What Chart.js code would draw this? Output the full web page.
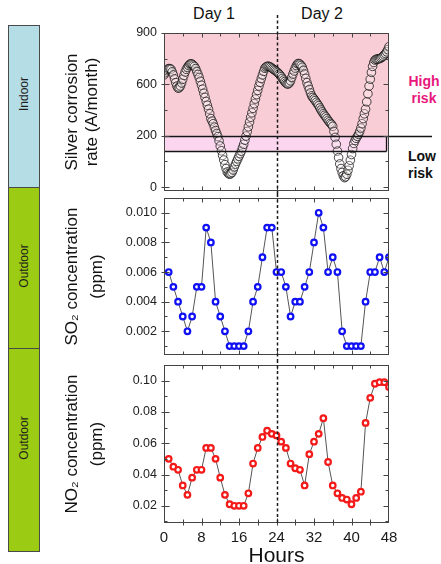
<!DOCTYPE html>
<html>
<head>
<meta charset="utf-8">
<script src="https://cdn.jsdelivr.net/npm/chart.js@4.4.0/dist/chart.umd.min.js"></script>
<style>
html,body{margin:0;padding:0;background:#fff;}
#wrap{position:relative;width:441px;height:564px;overflow:hidden;font-family:'Liberation Sans',Arial,sans-serif;}
canvas{position:absolute;left:0;}
.box{position:absolute;left:8px;width:32px;border:1px solid #4a4a4a;box-sizing:border-box;}
.vt{position:absolute;left:50%;transform:translate(-50%,-50%) rotate(-90deg);white-space:nowrap;font-size:12px;color:#1e1e1e;}
.day{position:absolute;top:5px;font-size:16px;color:#111;transform:translateX(-50%);white-space:nowrap;}
.risk{position:absolute;font-weight:bold;font-size:14px;line-height:17px;}
</style>
</head>
<body>
<div id="wrap">
  <div class="box" style="top:25px;height:163px;background:#b5dde5;"><span class="vt" style="top:68px;">Indoor</span></div>
  <div class="box" style="top:187px;height:162px;background:#9bcb12;"><span class="vt" style="top:78px;">Outdoor</span></div>
  <div class="box" style="top:348px;height:204px;background:#9bcb12;"><span class="vt" style="top:89px;">Outdoor</span></div>
  <div class="day" style="left:214px;">Day 1</div>
  <div class="day" style="left:322px;">Day 2</div>
  <div class="risk" style="left:405px;top:73px;width:38px;text-align:center;color:#e8177c;">High<br>risk</div>
  <div class="risk" style="left:408px;top:148px;color:#111;">Low<br>risk</div>
  <canvas id="c1" width="441" height="194" style="top:0px;"></canvas>
  <canvas id="c2" width="441" height="166" style="top:194px;"></canvas>
  <canvas id="c3" width="441" height="204" style="top:360px;"></canvas>
</div>
<script>
// ---------- data ----------
const dayBoundaryHour = 24;
const xTickHours = [0, 8, 16, 24, 32, 40, 48];

const silverHours = [
  0,0.25,0.5,0.75,1,1.25,1.5,1.75,2,2.25,2.5,2.75,3,3.25,3.5,3.75,4,4.25,4.5,4.75,5,5.25,5.5,5.75,
  6,6.25,6.5,6.75,7,7.25,7.5,7.75,8,8.25,8.5,8.75,9,9.25,9.5,9.75,10,10.25,10.5,10.75,11,11.25,11.5,11.75,
  12,12.25,12.5,12.75,13,13.25,13.5,13.75,14,14.25,14.5,14.75,15,15.25,15.5,15.75,16,16.25,16.5,16.75,17,17.25,17.5,17.75,
  18,18.25,18.5,18.75,19,19.25,19.5,19.75,20,20.25,20.5,20.75,21,21.25,21.5,21.75,22,22.25,22.5,22.75,23,23.25,23.5,23.75,
  24,24.25,24.5,24.75,25,25.25,25.5,25.75,26,26.25,26.5,26.75,27,27.25,27.5,27.75,28,28.25,28.5,28.75,29,29.25,29.5,29.75,
  30,30.25,30.5,30.75,31,31.25,31.5,31.75,32,32.25,32.5,32.75,33,33.25,33.5,33.75,34,34.25,34.5,34.75,35,35.25,35.5,35.75,
  36,36.25,36.5,36.75,37,37.25,37.5,37.75,38,38.25,38.5,38.75,39,39.25,39.5,39.75,40,40.25,40.5,40.75,41,41.25,41.5,41.75,
  42,42.25,42.5,42.75,43,43.25,43.5,43.75,44,44.25,44.5,44.75,45,45.25,45.5,45.75,46,46.25,46.5,46.75,47,47.25,47.5,47.75,48];
const silverRate = [
  655,668,680,688,692,692,688,673,655,632,610,590,578,580,590,608,630,652,672,688,700,710,718,720,
  718,712,705,692,675,658,640,618,595,572,548,524,500,478,455,428,400,385,370,350,330,313,295,270,
  240,212,185,158,131,108,88,79,75,78,85,100,118,134,150,165,180,195,210,230,250,274,298,325,
  352,380,408,434,460,487,514,540,565,590,612,634,655,676,694,702,705,706,704,700,695,690,685,680,
  675,669,662,654,645,635,625,616,608,603,602,608,620,640,660,678,695,710,720,722,718,710,700,682,
  660,635,610,590,570,550,533,523,515,505,495,485,475,462,450,439,428,419,410,400,390,381,372,366,
  355,325,290,250,210,172,135,108,85,66,55,60,75,98,125,157,190,225,255,272,285,296,308,325,
  345,370,400,428,455,498,545,590,630,670,705,728,742,746,748,749,750,754,758,764,772,780,790,803,820];
const silverTickValues = [0, 300, 600, 900];
const silverTickLabels = ['0', '200', '600', '900'];
const riskBandTop = 300;
const riskBandBottom = 212;

const pollutantHours = [1,2,3,4,5,6,7,8,9,10,11,12,13,14,15,16,17,18,19,20,21,22,23,24,25,26,27,28,29,30,31,32,33,34,35,36,37,38,39,40,41,42,43,44,45,46,47,48];
const so2Ppm = [0.006,0.005,0.004,0.003,0.002,0.003,0.005,0.005,0.009,0.008,0.004,0.003,0.002,0.001,0.001,0.001,0.001,0.002,0.004,0.005,0.007,0.009,0.009,0.006,0.006,0.005,0.003,0.004,0.004,0.005,0.006,0.008,0.010,0.009,0.006,0.007,0.006,0.002,0.001,0.001,0.001,0.001,0.004,0.006,0.006,0.007,0.006,0.007];
const so2TickValues = [0.002, 0.004, 0.006, 0.008, 0.010];
const so2TickLabels = ['0.002', '0.004', '0.006', '0.008', '0.010'];

const no2Ppm = [0.050,0.045,0.043,0.033,0.027,0.038,0.043,0.043,0.057,0.057,0.050,0.038,0.027,0.021,0.020,0.020,0.020,0.028,0.047,0.057,0.064,0.068,0.066,0.065,0.061,0.057,0.047,0.044,0.043,0.033,0.053,0.061,0.066,0.076,0.048,0.033,0.028,0.025,0.024,0.021,0.025,0.029,0.073,0.089,0.098,0.099,0.099,0.096];
const no2TickValues = [0.02, 0.04, 0.06, 0.08, 0.10];
const no2TickLabels = ['0.02', '0.04', '0.06', '0.08', '0.10'];

// ---------- drawing ----------
Chart.defaults.font.family = "'Liberation Sans', Arial, sans-serif";
Chart.defaults.color = '#1e1e1e';

const decor = {
  id: 'decor',
  beforeDatasetsDraw(chart, args, o) {
    if (!o.bands) return;
    const {ctx, chartArea: a, scales: {y}} = chart;
    const yt = y.getPixelForValue(riskBandTop), yb = y.getPixelForValue(riskBandBottom);
    ctx.save();
    ctx.fillStyle = '#f9cdd6';
    ctx.fillRect(a.left, a.top, a.right - a.left, yt - a.top);
    ctx.fillStyle = '#fbd6ee';
    ctx.fillRect(a.left, yt, a.right - a.left, yb - yt);
    ctx.restore();
  },
  afterDraw(chart, args, o) {
    const {ctx, chartArea: a, scales: {x, y}} = chart;
    const seg = (x1, y1, x2, y2) => { ctx.beginPath(); ctx.moveTo(x1, y1); ctx.lineTo(x2, y2); ctx.stroke(); };
    ctx.save();
    const L = Math.round(a.left) + 0.5, R = Math.round(a.right) - 0.5;
    const T = Math.round(a.top) + 0.5, B = Math.round(a.bottom) - 0.5;
    if (o.bands) {
      const yt = Math.round(y.getPixelForValue(riskBandTop)) + 0.5;
      const yb = Math.round(y.getPixelForValue(riskBandBottom)) + 0.5;
      ctx.strokeStyle = '#151515';
      ctx.lineWidth = 1.5;
      seg(L, yt, 432, yt);
      ctx.lineWidth = 1.3;
      seg(L, yb, R - 2, yb);
      seg(R - 2, yt, R - 2, yb);
    }
    ctx.strokeStyle = '#444';
    ctx.lineWidth = 1;
    ctx.strokeRect(L, T, R - L, B - T);
    const majors = o.yMajors;
    const step = majors[1] - majors[0];
    for (let i = -2; i < majors.length + 2; i++) {
      const vMaj = majors[0] + i * step;
      const vMin = vMaj + step / 2;
      [[vMaj, true], [vMin, false]].forEach(([v, isMaj]) => {
        if (v < y.min - 1e-12 || v > y.max + 1e-12) return;
        const p = Math.round(y.getPixelForValue(v)) + 0.5;
        if (p < T || p > B) return;
        const len = isMaj ? 5 : 3;
        seg(L - (isMaj ? 3 : 0), p, L + len, p);
        seg(R - len, p, R, p);
      });
    }
    for (let h = 4; h < 48; h += 4) {
      const p = Math.round(x.getPixelForValue(h)) + 0.5;
      const len = (h % 8 === 0) ? 4 : 3;
      seg(p, T, p, T + len);
      seg(p, B - len, p, B + (o.xOutside ? 3 : 0));
    }
    const dx = Math.round(x.getPixelForValue(dayBoundaryHour)) + 0.5;
    ctx.strokeStyle = '#1a1a1a';
    ctx.lineWidth = 1.5;
    ctx.setLineDash([3, 2.5]);
    seg(dx, o.dashTop, dx, o.dashBottom === 'area' ? a.bottom : chart.height);
    ctx.restore();
  }
};

function yScale(min, max, tickValues, tickLabels, title, lineH, axisWidth) {
  return {
    type: 'linear', min: min, max: max,
    grid: { display: false, drawTicks: false },
    border: { display: false },
    afterBuildTicks: s => { s.ticks = tickValues.map(v => ({ value: v })); },
    afterFit: s => { s.width = axisWidth; s.paddingTop = 0; s.paddingBottom = 0; },
    ticks: {
      padding: 7,
      font: { size: 12.5 },
      color: '#222',
      callback: (v) => { const i = tickValues.findIndex(t => Math.abs(t - v) < 1e-9); return i >= 0 ? tickLabels[i] : ''; }
    },
    title: {
      display: true, text: title, color: '#111',
      font: { size: 17, lineHeight: lineH },
      padding: 0
    }
  };
}

function xScale(showLabels) {
  const s = {
    type: 'linear', min: 0, max: 48,
    display: showLabels,
    grid: { display: false, drawTicks: false },
    border: { display: false }
  };
  if (showLabels) {
    s.afterBuildTicks = sc => { sc.ticks = xTickHours.map(v => ({ value: v })); };
    s.afterFit = sc => { sc.height = 41; sc.paddingLeft = 0; sc.paddingRight = 0; };
    s.ticks = { padding: 6, font: { size: 15 }, color: '#1a1a1a', maxRotation: 0, autoSkip: false };
    s.title = { display: true, text: 'Hours', color: '#111', font: { size: 21, lineHeight: 1.0 }, padding: { top: 0, bottom: -3 } };
  }
  return s;
}

const base = {
  responsive: false,
  animation: false,
  events: [],
  plugins: { legend: { display: false }, tooltip: { enabled: false } }
};

new Chart(document.getElementById('c1'), {
  type: 'scatter',
  data: { datasets: [{
    data: silverHours.map((h, i) => ({ x: h, y: silverRate[i] })),
    showLine: false,
    pointRadius: 4.3,
    pointBorderWidth: 1,
    pointBorderColor: 'rgba(15,15,15,0.75)',
    pointBackgroundColor: 'rgba(255,250,250,0.3)'
  }]},
  options: Object.assign({}, base, {
    layout: { autoPadding: false, padding: { left: 62, right: 52, top: 33, bottom: 3 } },
    scales: {
      x: xScale(false),
      y: yScale(-23, 900, silverTickValues, silverTickLabels, ['Silver corrosion', 'rate (A/month)'], 1.18, 102)
    },
    plugins: Object.assign({}, base.plugins, { decor: { bands: true, yMajors: silverTickValues, dashTop: 15, dashBottom: 'canvas' } })
  }),
  plugins: [decor]
});

new Chart(document.getElementById('c2'), {
  type: 'scatter',
  data: { datasets: [{
    data: pollutantHours.map((h, i) => ({ x: h, y: so2Ppm[i] })),
    showLine: true,
    borderColor: '#555',
    borderWidth: 1,
    pointRadius: 2.8,
    pointBorderWidth: 2.2,
    pointBorderColor: '#1010f5',
    pointBackgroundColor: '#ffffff'
  }]},
  options: Object.assign({}, base, {
    layout: { autoPadding: false, padding: { left: 60, right: 52, top: 4, bottom: 5 } },
    scales: {
      x: xScale(false),
      y: yScale(0.0004, 0.011, so2TickValues, so2TickLabels, ['SO\u2082 concentration', '(ppm)'], 1.47, 104)
    },
    plugins: Object.assign({}, base.plugins, { decor: { bands: false, yMajors: so2TickValues, dashTop: 0, dashBottom: 'canvas' } })
  }),
  plugins: [decor]
});

new Chart(document.getElementById('c3'), {
  type: 'scatter',
  data: { datasets: [{
    data: pollutantHours.map((h, i) => ({ x: h, y: no2Ppm[i] })),
    showLine: true,
    borderColor: '#555',
    borderWidth: 1,
    pointRadius: 2.8,
    pointBorderWidth: 2.2,
    pointBorderColor: '#f51a1a',
    pointBackgroundColor: '#ffffff'
  }]},
  options: Object.assign({}, base, {
    layout: { autoPadding: false, padding: { left: 60, right: 52, top: 5, bottom: 0 } },
    scales: {
      x: xScale(true),
      y: yScale(0.009, 0.110, no2TickValues, no2TickLabels, ['NO\u2082 concentration', '(ppm)'], 1.47, 104)
    },
    plugins: Object.assign({}, base.plugins, { decor: { bands: false, yMajors: no2TickValues, dashTop: 0, dashBottom: 'area', xOutside: true } })
  }),
  plugins: [decor]
});
</script>
</body>
</html>
